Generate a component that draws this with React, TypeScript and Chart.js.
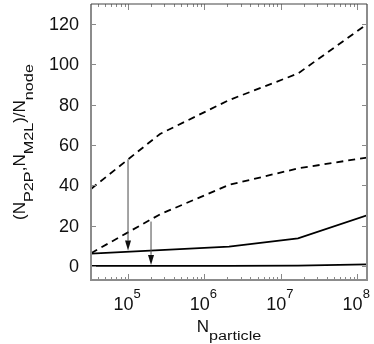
import React, { useEffect, useRef } from "react";
import { Chart, registerables } from "chart.js";

Chart.register(...registerables);

// ---- data ----
const X_VALUES = [32768, 262144, 2097152, 16777216, 134217728];
const UPPER_DASHED = [38.2, 65.5, 82.3, 95.5, 120];
const LOWER_DASHED = [6.3, 25.6, 40.2, 48.4, 53.8];
const UPPER_SOLID = [6.1, 7.8, 9.6, 13.7, 25.1];
const LOWER_SOLID = [0, 0, 0, 0.1, 0.8];

const Y_TICKS = [0, 20, 40, 60, 80, 100, 120];
const X_TICK_EXPONENTS = [5, 6, 7, 8];

const ARROW_X = [100000, 200000];
const ARROW_FROM = [52.9, 22];
const ARROW_TO = [7.6, 0.5];

const X_MIN = 32768;
const X_MAX = 134217728;
const Y_MIN = -7;
const Y_MAX = 130;

const FONT = "'Liberation Sans', Arial, Helvetica, sans-serif";

function drawSegments(ctx: CanvasRenderingContext2D, segs: [string, boolean][], cx: number, base: number) {
  const MAIN = 17;
  const SUB = 12;
  const STRETCH = 1.35;
  const SUB_OFF = 8;
  const widths = segs.map(([t, sub]) => {
    ctx.font = `${sub ? SUB : MAIN}px ${FONT}`;
    return ctx.measureText(t).width * (sub ? STRETCH : 1);
  });
  const total = widths.reduce((a, b) => a + b, 0);
  let xPos = cx - total / 2;
  segs.forEach(([t, sub], i) => {
    ctx.font = `${sub ? SUB : MAIN}px ${FONT}`;
    ctx.save();
    ctx.translate(xPos, base + (sub ? SUB_OFF : 0));
    if (sub) ctx.scale(STRETCH, 1);
    ctx.textAlign = "left";
    ctx.textBaseline = "alphabetic";
    ctx.fillText(t, 0, 0);
    ctx.restore();
    xPos += widths[i];
  });
}

const decorPlugin = {
  id: "decor",
  afterDraw(chart: any) {
    const { ctx, chartArea } = chart;
    const { left, right, top, bottom } = chartArea;
    const xs = chart.scales.x;
    const ys = chart.scales.y;
    ctx.save();

    // arrows
    ARROW_X.forEach((ax, i) => {
      const px = xs.getPixelForValue(ax);
      const p1 = ys.getPixelForValue(ARROW_FROM[i]);
      const p2 = ys.getPixelForValue(ARROW_TO[i]);
      const head = 10;
      ctx.strokeStyle = "#4a4a4a";
      ctx.lineWidth = 1;
      ctx.beginPath();
      ctx.moveTo(px, p1);
      ctx.lineTo(px, p2 - head);
      ctx.stroke();
      ctx.fillStyle = "#111";
      ctx.beginPath();
      ctx.moveTo(px, p2);
      ctx.lineTo(px - 3, p2 - head);
      ctx.lineTo(px + 3, p2 - head);
      ctx.closePath();
      ctx.fill();
    });

    // ticks
    ctx.strokeStyle = "#888";
    ctx.lineWidth = 1;
    ctx.beginPath();
    for (let d = 4; d <= 8; d++) {
      for (let m = 1; m <= 9; m++) {
        const v = m * Math.pow(10, d);
        if (v < X_MIN || v > X_MAX) continue;
        const px = Math.round(xs.getPixelForValue(v)) + 0.5;
        const len = m === 1 ? 6 : 3;
        ctx.moveTo(px, bottom);
        ctx.lineTo(px, bottom - len);
        ctx.moveTo(px, top);
        ctx.lineTo(px, top + len);
      }
    }
    Y_TICKS.forEach((v) => {
      const py = Math.round(ys.getPixelForValue(v)) + 0.5;
      ctx.moveTo(left, py);
      ctx.lineTo(left + 5, py);
      ctx.moveTo(right, py);
      ctx.lineTo(right - 5, py);
    });
    ctx.stroke();

    // frame
    ctx.strokeStyle = "#8c8c8c";
    ctx.lineWidth = 2;
    ctx.beginPath();
    ctx.moveTo(left, top);
    ctx.lineTo(left, bottom);
    ctx.lineTo(right, bottom);
    ctx.lineTo(right, top);
    ctx.stroke();
    ctx.strokeStyle = "#444";
    ctx.lineWidth = 1.2;
    ctx.beginPath();
    ctx.moveTo(left, top);
    ctx.lineTo(right, top);
    ctx.stroke();

    // y tick labels
    ctx.fillStyle = "#111";
    ctx.font = `18px ${FONT}`;
    ctx.textAlign = "right";
    ctx.textBaseline = "middle";
    Y_TICKS.forEach((v) => {
      ctx.fillText(String(v), 79, ys.getPixelForValue(v) + 1);
    });

    // x tick labels
    X_TICK_EXPONENTS.forEach((e) => {
      const px = xs.getPixelForValue(Math.pow(10, e));
      ctx.font = `18px ${FONT}`;
      const w1 = ctx.measureText("10").width;
      ctx.font = `13px ${FONT}`;
      const w2 = ctx.measureText(String(e)).width;
      const x0 = px - (w1 + w2) / 2 - 1;
      ctx.textAlign = "left";
      ctx.textBaseline = "alphabetic";
      ctx.font = `18px ${FONT}`;
      ctx.fillText("10", x0, 310);
      ctx.font = `13px ${FONT}`;
      ctx.fillText(String(e), x0 + w1, 298);
    });

    // x title
    drawSegments(ctx, [["N", false], ["particle", true]], (left + right) / 2, 332);

    // y title
    ctx.save();
    ctx.translate(25, 142);
    ctx.rotate(-Math.PI / 2);
    drawSegments(
      ctx,
      [
        ["(", false],
        ["N", false],
        ["P2P", true],
        [",", false],
        ["N", false],
        ["M2L", true],
        [")", false],
        ["/", false],
        ["N", false],
        ["node", true],
      ],
      0,
      0
    );
    ctx.restore();

    ctx.restore();
  },
};

export default function App() {
  const ref = useRef<HTMLCanvasElement | null>(null);
  useEffect(() => {
    if (!ref.current) return;
    const mk = (vals: number[], dashed: boolean) => ({
      data: X_VALUES.map((x, i) => ({ x, y: vals[i] })),
      borderColor: "#000",
      borderWidth: 1.8,
      borderDash: dashed ? [7, 5] : [],
      pointRadius: 0,
      fill: false,
      tension: 0,
    });
    const chart = new Chart(ref.current, {
      type: "line",
      data: {
        datasets: [
          mk(UPPER_DASHED, true),
          mk(LOWER_DASHED, true),
          mk(UPPER_SOLID, false),
          mk(LOWER_SOLID, false),
        ],
      },
      options: {
        animation: false,
        responsive: false,
        devicePixelRatio: 1,
        layout: { padding: { top: 4, right: 7, left: 0, bottom: 0 } },
        plugins: { legend: { display: false }, tooltip: { enabled: false } },
        scales: {
          x: {
            type: "logarithmic",
            min: X_MIN,
            max: X_MAX,
            ticks: { display: false },
            grid: { display: false },
            border: { display: false },
            afterFit: (s: any) => {
              s.height = 64;
            },
          },
          y: {
            type: "linear",
            min: Y_MIN,
            max: Y_MAX,
            ticks: { display: false },
            grid: { display: false },
            border: { display: false },
            afterFit: (s: any) => {
              s.width = 91;
            },
          },
        },
      } as any,
      plugins: [decorPlugin],
    });
    return () => chart.destroy();
  }, []);
  return (
    <div style={{ position: "absolute", left: 0, top: 0, width: 374, height: 344, background: "#fff" }}>
      <canvas ref={ref} width={374} height={344} style={{ display: "block" }} />
    </div>
  );
}
